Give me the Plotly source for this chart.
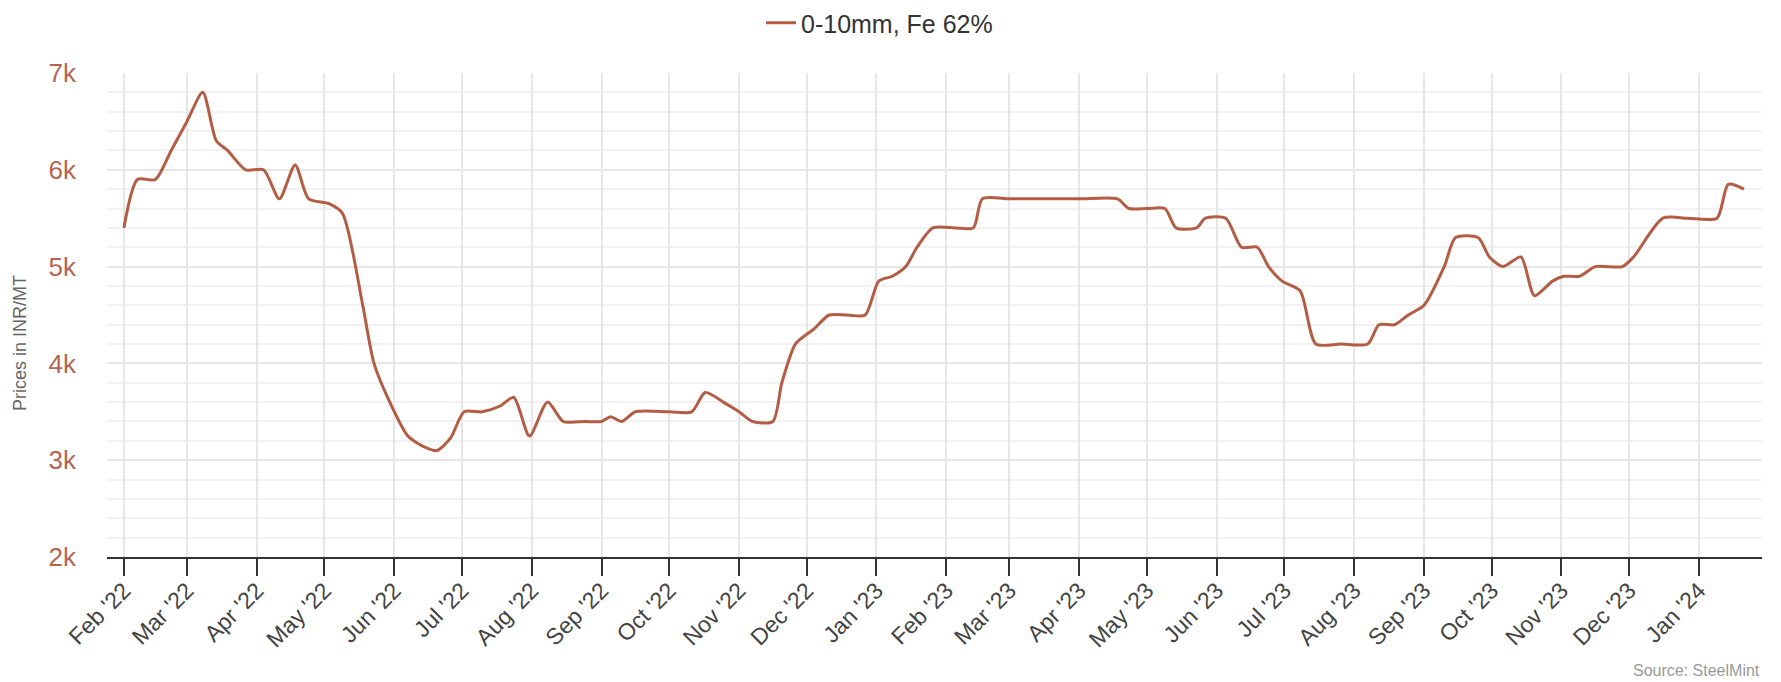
import plotly.graph_objects as go

dates = [
    "2022-02-01", "2022-02-07", "2022-02-15", "2022-02-22", "2022-03-01", "2022-03-08",
    "2022-03-14", "2022-03-19", "2022-03-27", "2022-04-04", "2022-04-11", "2022-04-18",
    "2022-04-24", "2022-05-03", "2022-05-09", "2022-05-18", "2022-05-23", "2022-05-31",
    "2022-06-07", "2022-06-15", "2022-06-20", "2022-06-26", "2022-07-02", "2022-07-10",
    "2022-07-18", "2022-07-24", "2022-07-31", "2022-08-08", "2022-08-15", "2022-08-25",
    "2022-09-01", "2022-09-05", "2022-09-10", "2022-09-16", "2022-10-01", "2022-10-11",
    "2022-10-17", "2022-10-25", "2022-11-01", "2022-11-07", "2022-11-16", "2022-11-20",
    "2022-11-26", "2022-12-01", "2022-12-04", "2022-12-11", "2022-12-19", "2022-12-27",
    "2023-01-02", "2023-01-08", "2023-01-14", "2023-01-19", "2023-01-26", "2023-02-05",
    "2023-02-13", "2023-02-17", "2023-03-01", "2023-03-15", "2023-04-01", "2023-04-18",
    "2023-04-23", "2023-05-01", "2023-05-09", "2023-05-14", "2023-05-23", "2023-05-27",
    "2023-06-05", "2023-06-12", "2023-06-19", "2023-06-24", "2023-06-30", "2023-07-08",
    "2023-07-15", "2023-07-26", "2023-08-07", "2023-08-12", "2023-08-19", "2023-08-25",
    "2023-09-01", "2023-09-10", "2023-09-15", "2023-09-25", "2023-09-30", "2023-10-06",
    "2023-10-14", "2023-10-20", "2023-10-28", "2023-11-02", "2023-11-09", "2023-11-16",
    "2023-11-28", "2023-12-03", "2023-12-16", "2023-12-27", "2024-01-09", "2024-01-14",
    "2024-01-21",
]
prices = [
    5400, 5900, 5900, 6200, 6500, 6800,
    6300, 6200, 6000, 6000, 5700, 6050,
    5700, 5650, 5550, 4600, 4000, 3550,
    3250, 3130, 3100, 3230, 3500, 3500,
    3560, 3650, 3250, 3600, 3400, 3400,
    3400, 3450, 3400, 3500, 3500, 3500,
    3700, 3600, 3500, 3400, 3400, 3800,
    4200, 4300, 4350, 4500, 4500, 4500,
    4850, 4900, 5000, 5200, 5400, 5400,
    5400, 5700, 5700, 5700, 5700, 5700,
    5600, 5600, 5600, 5400, 5400, 5500,
    5500, 5200, 5200, 5000, 4850, 4750,
    4200, 4200, 4200, 4400, 4400, 4500,
    4600, 5000, 5300, 5300, 5100, 5000,
    5100, 4700, 4850, 4900, 4900, 5000,
    5000, 5100, 5500, 5500, 5500, 5850,
    5800,
]
series_name = "0-10mm, Fe 62%"
y_tickvals = [2000, 3000, 4000, 5000, 6000, 7000]
y_ticktext = ["2k", "3k", "4k", "5k", "6k", "7k"]
y_title = "Prices in INR/MT"
source_text = "Source: SteelMint"

LINE = "#b35d45"
LABEL = "#b5654f"
FONT = "Liberation Sans, Arial, sans-serif"
W, H = 1781, 682
L, R, T, B = 107, 19, 73, 125
PW, PH = W - L - R, H - T - B

fig = go.Figure()
fig.add_trace(go.Scatter(
    x=dates, y=prices, mode="lines", name=series_name,
    line=dict(color=LINE, width=3, shape="spline", smoothing=0.7),
    showlegend=True,
))

fig.update_layout(
    width=W, height=H,
    margin=dict(l=L, r=R, t=T, b=B, autoexpand=False),
    paper_bgcolor="white", plot_bgcolor="white",
    font=dict(family=FONT, color="#333333"),
    showlegend=True,
    legend=dict(
        orientation="h", xref="container", yref="container",
        x=(W / 2 - 11) / W, xanchor="center", y=1 - 23 / H, yanchor="middle",
        font=dict(size=25, color="#333333"),
        itemwidth=30,
    ),
    xaxis=dict(
        type="date", automargin=False,
        range=["2022-01-24 12:00", "2024-01-29"],
        tickmode="linear", tick0="2022-02-01", dtick="M1",
        tickformat="%b '%y", tickangle=-45,
        tickfont=dict(size=23, color="#444444"),
        ticks="outside", ticklen=17, tickwidth=2, tickcolor="#333333",
        ticklabelstandoff=-8,
        showline=True, linecolor="#333333", linewidth=2,
        showgrid=True, gridcolor="#e6e6e6", gridwidth=1.5,
        zeroline=False,
    ),
    yaxis=dict(
        automargin=False,
        range=[2000, 7000],
        tickmode="array", tickvals=y_tickvals, ticktext=y_ticktext,
        tickfont=dict(size=26, color=LABEL),
        showgrid=True, gridcolor="#e6e6e6", gridwidth=1.5,
        minor=dict(dtick=200, showgrid=True, gridcolor="#f2f2f2", gridwidth=1.5),
        showline=False, zeroline=False, ticks="", ticklabelstandoff=30,
    ),
    annotations=[
        dict(
            text=y_title, xref="paper", yref="paper",
            x=(20 - L) / PW, y=(H - B - 343) / PH,
            xanchor="center", yanchor="middle", textangle=-90, showarrow=False,
            font=dict(size=18, color="#666666"),
        ),
        dict(
            text=source_text, xref="paper", yref="paper",
            x=1, y=-(670 - (H - B)) / PH,
            xanchor="right", yanchor="middle", showarrow=False,
            font=dict(size=16, color="#999999"),
        ),
    ],
)

fig.write_html(
    "out.html",
    config={"displayModeBar": False},
    post_script="document.body.style.margin='0';document.body.style.padding='0';",
)
